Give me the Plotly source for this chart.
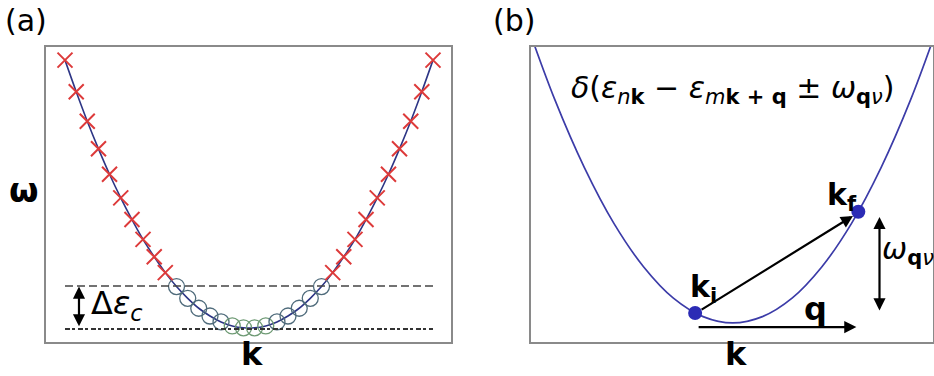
import plotly.graph_objects as go

# ---------------- data ----------------
# Panel (a): sampled band points (k, omega)
cross_k = [-1.000, -0.939, -0.879, -0.818, -0.758, -0.697, -0.636, -0.576, -0.515, -0.455,
           0.455, 0.515, 0.576, 0.636, 0.697, 0.758, 0.818, 0.879, 0.939, 1.000]
cross_w = [1.000, 0.882, 0.772, 0.669, 0.574, 0.486, 0.405, 0.331, 0.266, 0.207,
           0.207, 0.266, 0.331, 0.405, 0.486, 0.574, 0.669, 0.772, 0.882, 1.000]
circle_k = [-0.394, -0.333, -0.273, -0.212, -0.152, -0.091, -0.030,
            0.030, 0.091, 0.152, 0.212, 0.273, 0.333, 0.394]
circle_w = [0.155, 0.111, 0.074, 0.045, 0.023, 0.008, 0.001,
            0.001, 0.008, 0.023, 0.045, 0.074, 0.111, 0.155]
band_k = [-1.000, -0.939, -0.879, -0.818, -0.758, -0.697, -0.636, -0.576, -0.515, -0.455,
          -0.394, -0.333, -0.273, -0.212, -0.152, -0.091, -0.030,
          0.030, 0.091, 0.152, 0.212, 0.273, 0.333, 0.394,
          0.455, 0.515, 0.576, 0.636, 0.697, 0.758, 0.818, 0.879, 0.939, 1.000]
band_w = [1.000, 0.882, 0.772, 0.669, 0.574, 0.486, 0.405, 0.331, 0.266, 0.207,
          0.155, 0.111, 0.074, 0.045, 0.023, 0.008, 0.001,
          0.001, 0.008, 0.023, 0.045, 0.074, 0.111, 0.155,
          0.207, 0.266, 0.331, 0.405, 0.486, 0.574, 0.669, 0.772, 0.882, 1.000]
delta_eps_c = 0.157      # upper dashed level
band_min = -0.003        # lower dotted level

# Panel (b): band curve and transition points
curve_k = [-1.04, -0.90, -0.75, -0.60, -0.45, -0.30, -0.15, 0.00,
           0.15, 0.30, 0.45, 0.60, 0.75, 0.90, 1.04]
curve_w = [1.082, 0.810, 0.563, 0.360, 0.203, 0.090, 0.023, 0.000,
           0.023, 0.090, 0.203, 0.360, 0.563, 0.810, 1.082]
state_k = [-0.190, 0.635]   # k_i, k_f
state_w = [0.036, 0.403]
q_y = -0.015
omega_arrow_k = 0.742
omega_arrow_w = [0.384, 0.040]

# ---------------- figure ----------------
FONT = "DejaVu Sans"
fig = go.Figure()

band_color = "#2d3585"
fig.add_trace(go.Scatter(x=band_k, y=band_w, mode="lines", line=dict(color=band_color, width=1.6, shape="spline"),
                         xaxis="x", yaxis="y", hoverinfo="skip"))
circle_colors = ["#4f6b7b"] * 5 + ["#6e9a74"] * 4 + ["#4f6b7b"] * 5
fig.add_trace(go.Scatter(x=circle_k, y=circle_w, mode="markers",
                         marker=dict(symbol="circle-open", size=16, color=circle_colors, line=dict(width=1.3)),
                         xaxis="x", yaxis="y"))
fig.add_trace(go.Scatter(x=cross_k, y=cross_w, mode="markers",
                         marker=dict(symbol="x-thin", size=15, line=dict(width=2, color="#dd3a3a"), color="#dd3a3a"),
                         xaxis="x", yaxis="y"))
fig.add_trace(go.Scatter(x=[band_k[0], band_k[-1]], y=[delta_eps_c, delta_eps_c], mode="lines",
                         line=dict(color="#444", width=1.4, dash="8px,4px"), xaxis="x", yaxis="y"))
fig.add_trace(go.Scatter(x=[band_k[0], band_k[-1]], y=[band_min, band_min], mode="lines",
                         line=dict(color="#333", width=2, dash="5px,2px,3px,3px"), xaxis="x", yaxis="y"))

fig.add_trace(go.Scatter(x=curve_k, y=curve_w, mode="lines", line=dict(color="#3c3ca8", width=1.7, shape="spline"),
                         xaxis="x2", yaxis="y2"))
fig.add_trace(go.Scatter(x=state_k, y=state_w, mode="markers", marker=dict(size=14, color="#2b2bb5"),
                         xaxis="x2", yaxis="y2"))

ax_common = dict(showticklabels=False, ticks="", showgrid=False, zeroline=False,
                 showline=True, mirror=True, linecolor="#8a8a8a", linewidth=1.6, fixedrange=True)
fig.update_layout(
    width=934, height=376, autosize=False,
    margin=dict(l=0, r=0, t=0, b=0),
    paper_bgcolor="white", plot_bgcolor="white",
    showlegend=False,
    font=dict(family=FONT, color="black"),
    xaxis=dict(domain=[0.0493, 0.4829], range=[-1.103, 1.098], **ax_common),
    yaxis=dict(domain=[0.0904, 0.875], range=[-0.052, 1.049], **ax_common),
    xaxis2=dict(domain=[0.5685, 0.9984], range=[-1.020, 1.010], anchor="y2", **ax_common),
    yaxis2=dict(domain=[0.0904, 0.875], range=[-0.069, 1.0], anchor="x2", **ax_common),
)

ann = []
def txt(text, x, y, size, xref="paper", yref="paper", xanchor="center", yanchor="middle"):
    ann.append(dict(text=text, x=x, y=y, xref=xref, yref=yref, showarrow=False,
                    xanchor=xanchor, yanchor=yanchor, font=dict(size=size, family=FONT, color="black")))

txt("(a)", 26 / 934, 1 - 21 / 376, 30)
txt("(b)", 514 / 934, 1 - 21 / 376, 30)
txt("<b>ω</b>", 24 / 934, 1 - 190 / 376, 34)
txt("<b>k</b>", 252 / 934, 1 - 354 / 376, 32)
txt("<b>k</b>", 736 / 934, 1 - 354 / 376, 32)
txt("Δ<i>ε</i><sub><i>c</i></sub>", -0.87, 0.086, 32, xref="x", yref="y", xanchor="left")
txt("<i>δ</i>(<i>ε</i><sub><i>n</i><b>k</b></sub> − <i>ε</i><sub><i>m</i><b>k + q</b></sub> ± <i>ω</i><sub><b>q</b><i>ν</i></sub>)",
    0.0, 0.846, 30, xref="x2", yref="y2")
txt("<b>k</b><sub><b>i</b></sub>", -0.15, 0.125, 30, xref="x2", yref="y2")
txt("<b>k</b><sub><b>f</b></sub>", 0.55, 0.46, 30, xref="x2", yref="y2")
txt("<b>q</b>", 0.418, 0.05, 32, xref="x2", yref="y2")
txt("<i>ω</i><sub><b>q</b><i>ν</i></sub>", 0.745, 0.262, 30, xref="x2", yref="y2", xanchor="left")

def arrow(x0, y0, x1, y1, xref, yref, both=False):
    ann.append(dict(x=x1, y=y1, ax=x0, ay=y0, xref=xref, yref=yref, axref=xref, ayref=yref,
                    text="", showarrow=True, arrowhead=2, arrowsize=1.1, arrowwidth=2.2,
                    arrowcolor="black", arrowside="end+start" if both else "end",
                    startarrowhead=2, startarrowsize=1.1, standoff=0, startstandoff=0))

arrow(-0.924, band_min + 0.004, -0.924, delta_eps_c - 0.002, "x", "y", both=True)
arrow(-0.165, 0.045, 0.608, 0.388, "x2", "y2")
arrow(-0.18, q_y, 0.625, q_y, "x2", "y2")
arrow(omega_arrow_k, omega_arrow_w[1], omega_arrow_k, omega_arrow_w[0], "x2", "y2", both=True)

fig.update_layout(annotations=ann)
fig.write_html("out.html")
